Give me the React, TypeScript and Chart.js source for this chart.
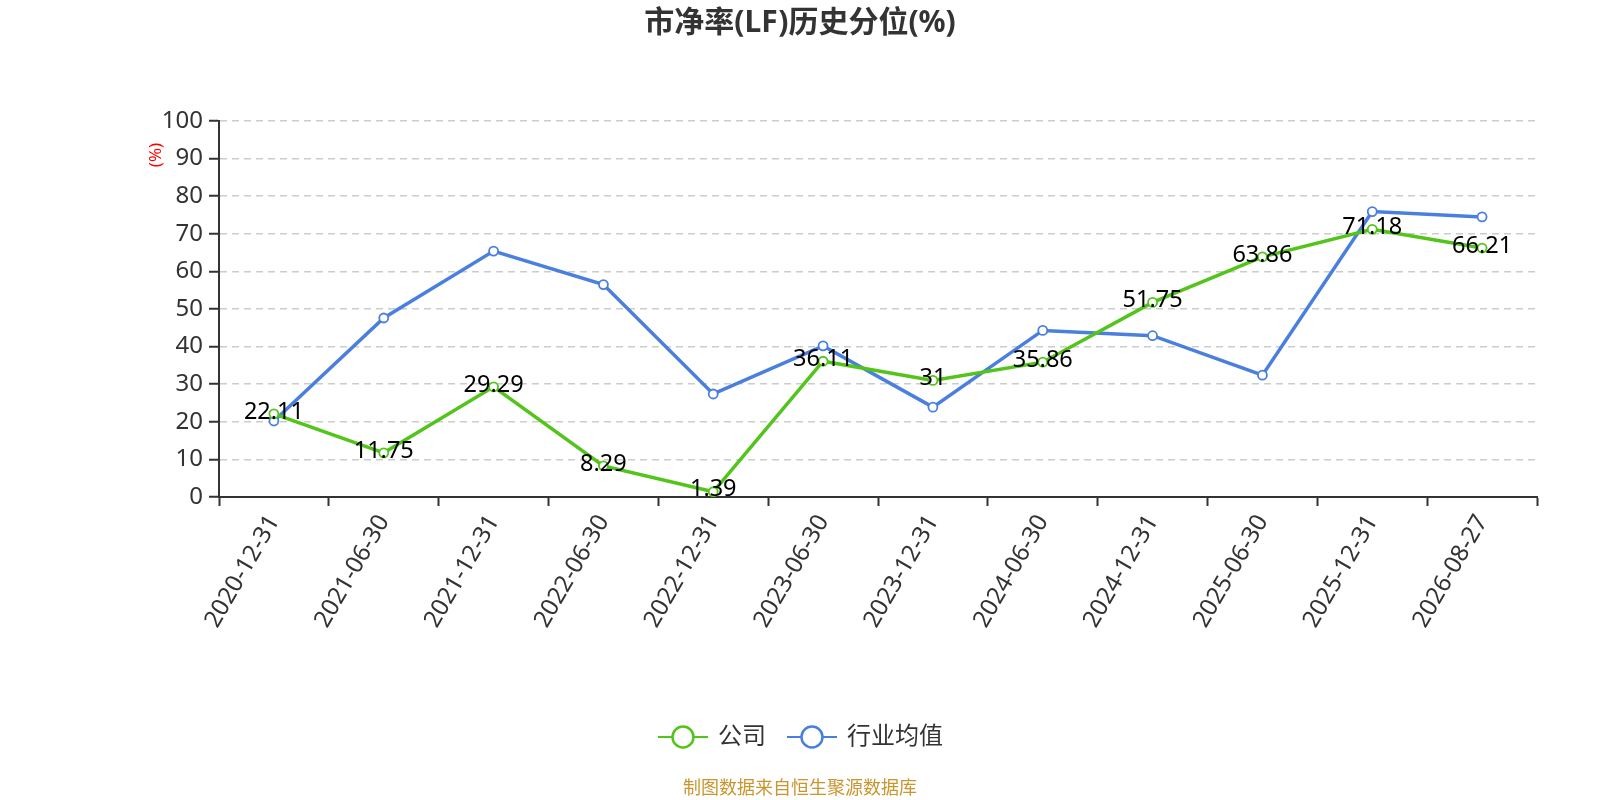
import React, { useEffect, useRef } from 'react';
import { Chart, registerables } from 'chart.js';

Chart.register(...registerables);

const categories = [
  '2020-12-31', '2021-06-30', '2021-12-31', '2022-06-30', '2022-12-31', '2023-06-30',
  '2023-12-31', '2024-06-30', '2024-12-31', '2025-06-30', '2025-12-31', '2026-08-27',
];
const companyValues = [22.11, 11.75, 29.29, 8.29, 1.39, 36.11, 31, 35.86, 51.75, 63.86, 71.18, 66.21];
const industryValues = [20.2, 47.6, 65.4, 56.5, 27.4, 40.2, 23.9, 44.3, 42.9, 32.4, 75.9, 74.5];
const seriesNames = ['公司', '行业均值'];
const yTicks = [0, 10, 20, 30, 40, 50, 60, 70, 80, 90, 100];

const GREEN = '#52c41a';
const BLUE = '#4a7fe0';
const FONT = '"Noto Sans", "Noto Sans CJK SC", sans-serif';

// labels on the company series, the y unit, title, legend and source line
const extrasPlugin = {
  id: 'extras',
  afterDatasetsDraw(chart: any) {
    const ctx = chart.ctx;
    const meta = chart.getDatasetMeta(0);
    ctx.save();
    ctx.font = `23.5px ${FONT}`;
    ctx.fillStyle = '#000';
    ctx.textAlign = 'center';
    ctx.textBaseline = 'middle';
    meta.data.forEach((pt: any, i: number) => {
      ctx.fillText(String(companyValues[i]), pt.x, pt.y - 2);
    });
    ctx.restore();
  },
  afterDraw(chart: any) {
    const ctx = chart.ctx;
    ctx.save();
    ctx.font = `bold 30px ${FONT}`;
    ctx.fillStyle = '#333';
    ctx.textAlign = 'center';
    ctx.textBaseline = 'middle';
    ctx.fillText('市净率(LF)历史分位(%)', 800, 23);

    ctx.save();
    ctx.translate(156, 155);
    ctx.rotate(-Math.PI / 2);
    ctx.font = `17px ${FONT}`;
    ctx.fillStyle = '#ff0000';
    ctx.fillText('(%)', 0, 0);
    ctx.restore();

    const items = [
      { x: 658, color: GREEN, text: seriesNames[0] },
      { x: 787, color: BLUE, text: seriesNames[1] },
    ];
    const ly = 737;
    items.forEach((it) => {
      ctx.strokeStyle = it.color;
      ctx.lineWidth = 2;
      ctx.beginPath();
      ctx.moveTo(it.x, ly);
      ctx.lineTo(it.x + 50, ly);
      ctx.stroke();
      ctx.beginPath();
      ctx.arc(it.x + 25, ly, 10.5, 0, Math.PI * 2);
      ctx.fillStyle = '#fff';
      ctx.fill();
      ctx.lineWidth = 2.5;
      ctx.stroke();
      ctx.font = `24px ${FONT}`;
      ctx.fillStyle = '#333';
      ctx.textAlign = 'left';
      ctx.fillText(it.text, it.x + 60, ly);
    });

    ctx.font = `18px ${FONT}`;
    ctx.fillStyle = '#c9952d';
    ctx.textAlign = 'center';
    ctx.fillText('制图数据来自恒生聚源数据库', 800, 789);
    ctx.restore();
  },
};

const App: React.FC = () => {
  const canvasRef = useRef<HTMLCanvasElement>(null);
  const chartRef = useRef<Chart | null>(null);

  useEffect(() => {
    document.body.style.margin = '0';
    if (!canvasRef.current) return;
    if (chartRef.current) chartRef.current.destroy();

    chartRef.current = new Chart(canvasRef.current, {
      type: 'line',
      data: {
        labels: categories,
        datasets: [
          {
            label: seriesNames[0],
            data: companyValues,
            borderColor: GREEN,
            backgroundColor: '#fff',
            borderWidth: 3.5,
            pointRadius: 4.5,
            pointBorderWidth: 1.8,
            pointBorderColor: GREEN,
            pointBackgroundColor: '#fff',
            tension: 0,
          },
          {
            label: seriesNames[1],
            data: industryValues,
            borderColor: BLUE,
            backgroundColor: '#fff',
            borderWidth: 3.5,
            pointRadius: 4.5,
            pointBorderWidth: 1.8,
            pointBorderColor: BLUE,
            pointBackgroundColor: '#fff',
            tension: 0,
          },
        ],
      },
      options: {
        animation: false,
        responsive: false,
        maintainAspectRatio: false,
        devicePixelRatio: 1,
        layout: { padding: { left: 0, right: 63, top: 121, bottom: 0 } },
        plugins: {
          legend: { display: false },
          title: { display: false },
          tooltip: { enabled: false },
        },
        scales: {
          x: {
            type: 'category',
            offset: true,
            afterFit: (s: any) => { s.height = 303; },
            grid: {
              offset: true,
              drawOnChartArea: false,
              drawTicks: true,
              tickLength: 9,
              tickColor: '#333',
              tickWidth: 2,
            },
            border: { display: true, color: '#333', width: 2 },
            ticks: {
              color: '#333',
              font: { size: 24, family: FONT },
              minRotation: 60,
              maxRotation: 60,
              autoSkip: false,
              padding: 4,
            },
          },
          y: {
            min: 0,
            max: 100,
            afterFit: (s: any) => { s.width = 219; },
            afterBuildTicks: (s: any) => { s.ticks = yTicks.map((v) => ({ value: v })); },
            grid: {
              color: '#cccccc',
              lineWidth: 1.5,
              tickLength: 10,
              tickColor: '#333',
              tickBorderDash: [],
              tickWidth: 2,
            },
            border: { display: true, color: '#333', width: 2, dash: [7, 5] },
            ticks: {
              color: '#333',
              font: { size: 24, family: FONT },
              padding: 6,
            },
          },
        },
      },
      plugins: [extrasPlugin],
    } as any);

    return () => {
      if (chartRef.current) {
        chartRef.current.destroy();
        chartRef.current = null;
      }
    };
  }, []);

  return (
    <div style={{ width: 1600, height: 800 }}>
      <canvas ref={canvasRef} width={1600} height={800} style={{ display: 'block' }} />
    </div>
  );
};

export default App;
